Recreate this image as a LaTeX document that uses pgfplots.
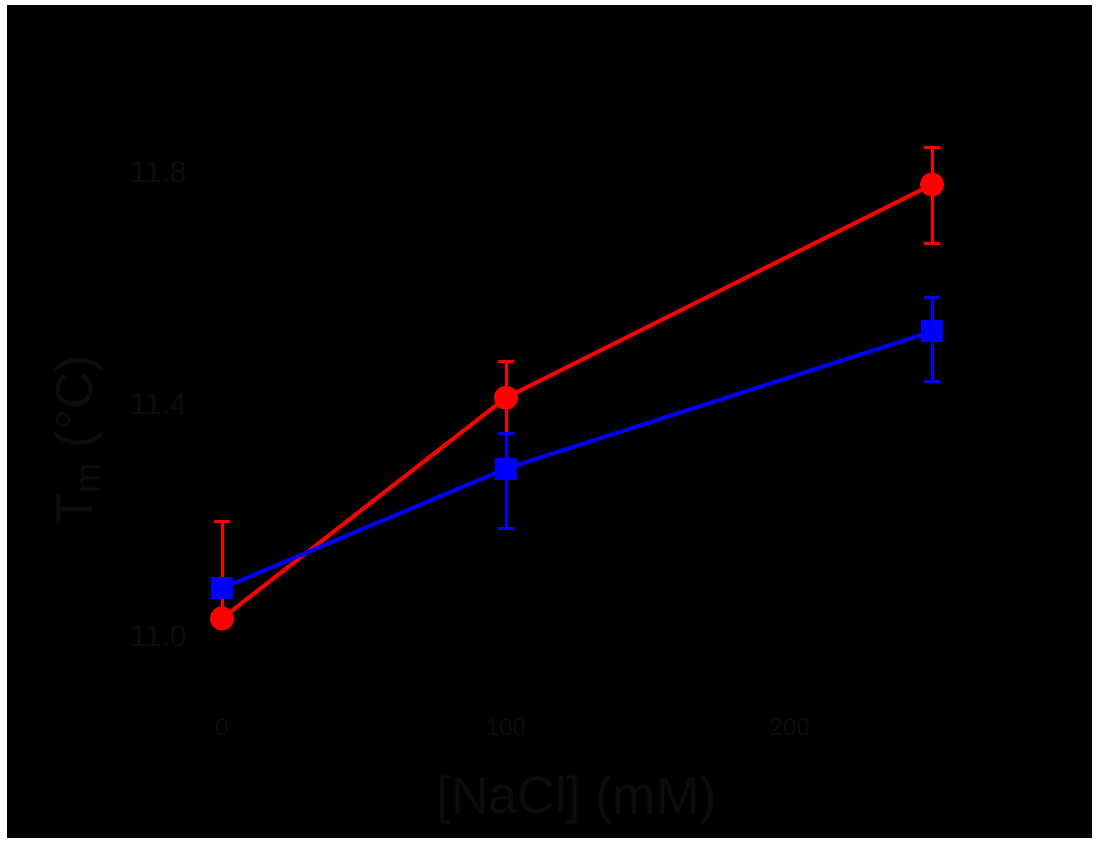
\documentclass[border=0pt]{standalone}
\usepackage{fontspec}
\setmainfont{Liberation Sans}
\usepackage{pgfplots}
\pgfplotsset{compat=1.18}
\definecolor{txt}{RGB}{12,12,12}
\definecolor{myred}{RGB}{255,0,0}
\definecolor{myblue}{RGB}{0,0,255}
\begin{document}
\begin{tikzpicture}
\path[use as bounding box, fill=white] (0,0) rectangle (548.5pt,421pt);
\fill[black] (3.5pt,2pt) rectangle (546pt,418.5pt);
\begin{axis}[
  at={(96.8pt,65pt)}, anchor=south west,
  scale only axis, width=397.6pt, height=313.7pt,
  xmin=-10, xmax=270, ymin=10.87, ymax=11.95,
  xtick={0,100,200}, ytick={11.0,11.4,11.8},
  yticklabel style={/pgf/number format/fixed, /pgf/number format/fixed zerofill, /pgf/number format/precision=1, font=\fontsize{15}{17}\selectfont},
  xticklabel style={font=\fontsize{12}{14}\selectfont},
  /pgf/number format/assume math mode=true,
  tick label style={text=txt},
  axis line style={black}, tick style={black},
  xlabel={[NaCl] (mM)},
  every axis x label/.style={at={(axis description cs:0.482,-0.140)}, anchor=center},
  xlabel style={font=\fontsize{26}{28}\selectfont, text=txt},
  ylabel={T$_\mathrm{m}$ (\textdegree C)},
  every axis y label/.style={at={(axis description cs:-0.144,0.433)}, rotate=90, anchor=center},
  ylabel style={font=\fontsize{26}{28}\selectfont, text=txt},
  every axis plot/.append style={line width=2pt},
  error bars/error bar style={line width=1.5pt},
  error bars/error mark options={rotate=90, mark size=4pt, line width=1.5pt},
]
\addplot[color=myred, mark=*, mark size=5pt,
  error bars/.cd, y dir=both, y explicit]
  coordinates {
    (0,11.031) += (0,0.167) -= (0,0)
    (100,11.411) += (0,0.062) -= (0,0.062)
    (250,11.778) += (0,0.064) -= (0,0.102)
  };
\addplot[color=myblue, mark=square*, mark size=4.5pt,
  error bars/.cd, y dir=both, y explicit]
  coordinates {
    (0,11.083) += (0,0.01) -= (0,0.01)
    (100,11.289) += (0,0.060) -= (0,0.103)
    (250,11.525) += (0,0.058) -= (0,0.086)
  };
\end{axis}
\end{tikzpicture}
\end{document}
